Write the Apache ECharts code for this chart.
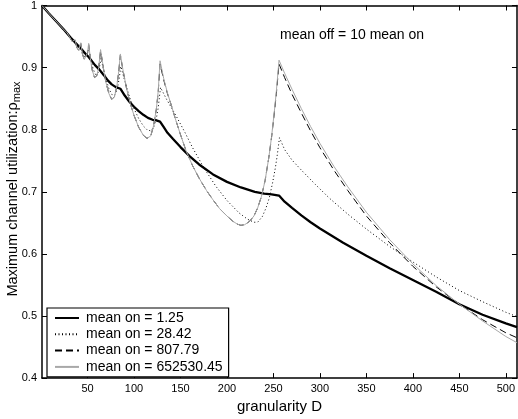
<!DOCTYPE html>
<html><head><meta charset="utf-8">
<script src="https://cdn.jsdelivr.net/npm/echarts@6/dist/echarts.min.js"></script>
<style>html,body{margin:0;padding:0;background:#fff}#c{width:518px;height:419px}</style>
</head><body><div id="c"></div>
<script>
// ---- data ----
var xTicks = [50,100,150,200,250,300,350,400,450,500];
var yTicks = [0.4,0.5,0.6,0.7,0.8,0.9,1];
var seriesNames = ['mean on = 1.25','mean on = 28.42','mean on = 807.79','mean on = 652530.45'];

var blackD = [1,8,16,24,32,40,42.7,48,51.2,58,62,64,68,72,76,80,85.3,90,95,100,105,110,115,120,124,128,132,136,142,150,160,170,185,200,215,230,240,248,256,262,270,280,290,300,325,350,375,400,425,450,475,500,512];
var blackV = [1.0,0.988,0.975,0.962,0.948,0.935,0.931,0.922,0.917,0.904,0.898,0.896,0.887,0.879,0.873,0.869,0.866,0.855,0.845,0.837,0.830,0.824,0.819,0.816,0.815,0.813,0.804,0.795,0.785,0.772,0.757,0.744,0.728,0.716,0.707,0.700,0.697,0.696,0.694,0.684,0.674,0.662,0.651,0.641,0.618,0.597,0.577,0.558,0.539,0.519,0.502,0.488,0.482];

var dotD = [1,8,16,24,28,30,32,34,35.5,37,39,41,43,45,47,49,51.5,54,56,58.5,61,63,64.5,67,70,73,76,79,82,84,85.8,88,92,96,100,105,110,114,118,121,124,126,128.5,135,145,155,163,175,188,200,213,222,229,233,238,242,245.5,249,252,254,256.5,262,270,280,295,310,330,350,375,400,425,450,475,500,512];
var dotV = [1.0,0.988,0.975,0.962,0.956,0.952,0.951,0.943,0.941,0.942,0.933,0.930,0.935,0.923,0.916,0.917,0.928,0.910,0.898,0.889,0.891,0.902,0.915,0.898,0.881,0.866,0.857,0.855,0.866,0.882,0.902,0.890,0.868,0.849,0.834,0.818,0.806,0.800,0.798,0.803,0.818,0.835,0.868,0.849,0.823,0.795,0.771,0.739,0.709,0.686,0.666,0.656,0.651,0.651,0.660,0.674,0.690,0.714,0.738,0.758,0.787,0.768,0.751,0.735,0.712,0.690,0.664,0.640,0.612,0.587,0.563,0.541,0.523,0.506,0.499];

var dashD = [1,8,16,24,28,30,32,33.5,35,36.6,38.5,40.5,42.7,44.5,46.5,48.5,50,51.2,53,55,57.5,60,62,64,66,68,70,73,76,79,81.5,83.5,85.3,88,92,96,100,105,110,114,118,121,124,126,128,132,136,140,145,150,156,163,170,178,185,192,200,206,211,215,219,224,229,233,237,241,245,248,251,253,256,262,270,280,290,300,315,330,350,375,400,425,450,475,500,512];
var dashV = [1.0,0.988,0.975,0.962,0.956,0.951,0.951,0.942,0.939,0.944,0.932,0.928,0.939,0.922,0.913,0.915,0.924,0.937,0.915,0.896,0.884,0.887,0.900,0.927,0.910,0.890,0.875,0.858,0.849,0.853,0.870,0.893,0.920,0.897,0.866,0.842,0.823,0.804,0.791,0.786,0.790,0.806,0.833,0.860,0.906,0.880,0.858,0.840,0.815,0.792,0.766,0.742,0.722,0.702,0.687,0.673,0.661,0.653,0.648,0.646,0.647,0.652,0.661,0.674,0.692,0.718,0.755,0.788,0.828,0.856,0.906,0.884,0.857,0.827,0.798,0.771,0.735,0.702,0.661,0.618,0.580,0.547,0.519,0.494,0.473,0.465];

var grayD = [1,8,16,24,28,30,32,33.5,35,36.6,38.5,40.5,42.7,44.5,46.5,48.5,50,51.2,53,55,57.5,60,62,64,66,68,70,73,76,79,81.5,83.5,85.3,88,92,96,100,105,110,114,118,121,124,126,128,132,136,140,145,150,156,163,170,178,185,192,200,206,211,215,219,224,229,233,237,241,245,248,251,253,256,262,270,280,290,300,315,330,350,375,400,425,450,475,500,512];
var grayV = [1.0,0.988,0.975,0.962,0.956,0.951,0.9525,0.942,0.939,0.945,0.932,0.928,0.940,0.922,0.913,0.915,0.924,0.939,0.915,0.896,0.884,0.887,0.900,0.929,0.910,0.890,0.875,0.858,0.849,0.853,0.870,0.893,0.922,0.897,0.866,0.842,0.823,0.804,0.791,0.786,0.790,0.806,0.833,0.862,0.911,0.882,0.859,0.840,0.815,0.792,0.766,0.742,0.722,0.702,0.687,0.673,0.661,0.653,0.648,0.646,0.647,0.652,0.661,0.674,0.692,0.718,0.755,0.789,0.830,0.860,0.912,0.891,0.865,0.834,0.805,0.778,0.741,0.708,0.667,0.623,0.584,0.549,0.519,0.492,0.467,0.457];

function pairs(d, v){ return d.map(function(x,i){ return [x, v[i]]; }); }

var FONT = '"Liberation Sans", Arial, Helvetica, sans-serif';
var chart = echarts.init(document.getElementById('c'), null, {renderer:'canvas'});

var axisCommon = {
  axisLine:{show:true, onZero:false, lineStyle:{color:'#000', width:1.5}},
  splitLine:{show:false}
};

chart.setOption({
  animation:false,
  backgroundColor:'#fff',
  grid:{left:42, right:-2, top:4, bottom:39, containLabel:false},
  xAxis:[
    Object.assign({}, axisCommon, {
      type:'value', min:1, max:512, position:'bottom',
      axisTick:{show:true, inside:true, length:5, lineStyle:{color:'#000'}, customValues:xTicks},
      axisLabel:{show:true, color:'#000', fontSize:11, fontFamily:FONT, margin:5, customValues:xTicks},
      name:'granularity D', nameLocation:'middle', nameGap:17,
      nameTextStyle:{color:'#000', fontSize:15, fontFamily:FONT}
    }),
    Object.assign({}, axisCommon, {
      type:'value', min:1, max:512, position:'top',
      axisTick:{show:true, inside:true, length:5, lineStyle:{color:'#000'}, customValues:xTicks},
      axisLabel:{show:false}
    })
  ],
  yAxis:[
    Object.assign({}, axisCommon, {
      type:'value', min:0.4, max:1, interval:0.1, position:'left',
      axisTick:{show:true, inside:true, length:5, lineStyle:{color:'#000'}},
      axisLabel:{show:true, color:'#000', fontSize:11, fontFamily:FONT, margin:5,
        formatter:function(v){ var r=Math.round(v*10)/10; return r===1?'1':r.toFixed(1); }}
    }),
    Object.assign({}, axisCommon, {
      type:'value', min:0.4, max:1, interval:0.1, position:'right',
      axisTick:{show:true, inside:true, length:5, lineStyle:{color:'#000'}},
      axisLabel:{show:false}
    })
  ],
  legend:{
    show:true,
    orient:'vertical', left:47, top:308,
    backgroundColor:'#fff', borderColor:'#000', borderWidth:1.2,
    padding:[3,6,3,7], itemGap:2.3, itemWidth:24, itemHeight:14,
    itemStyle:{opacity:0},
    textStyle:{color:'#000', fontSize:14, fontFamily:FONT, padding:[0,0,0,2]},
    data:seriesNames
  },
  graphic:[
    {type:'text', x:280, y:35, style:{text:'mean off = 10 mean on', fill:'#000', font:'14px '+FONT, verticalAlign:'middle', align:'left'}},
    {type:'text', x:13, y:189, rotation:Math.PI/2,
      style:{text:'Maximum channel utilization:ρ{sub|max}', fill:'#000', font:'14.5px '+FONT, align:'center', verticalAlign:'middle',
        rich:{sub:{fontSize:11, fontFamily:FONT, fill:'#000', padding:[8,0,0,0], verticalAlign:'bottom'}}}}
  ],
  series:[
    {name:seriesNames[0], type:'line', symbol:'none', data:pairs(blackD, blackV), lineStyle:{color:'#000', width:2.3}, itemStyle:{color:'#000'}, z:2},
    {name:seriesNames[1], type:'line', symbol:'none', data:pairs(dotD, dotV), lineStyle:{color:'#000', width:1, type:[1,2.5]}, itemStyle:{color:'#000'}, z:2},
    {name:seriesNames[2], type:'line', symbol:'none', data:pairs(dashD, dashV), lineStyle:{color:'#000', width:1, type:[7,4]}, itemStyle:{color:'#000'}, z:2},
    {name:seriesNames[3], type:'line', symbol:'none', data:pairs(grayD, grayV), lineStyle:{color:'#a8a8a8', width:1}, itemStyle:{color:'#a8a8a8'}, z:2}
  ]
});
</script></body></html>
